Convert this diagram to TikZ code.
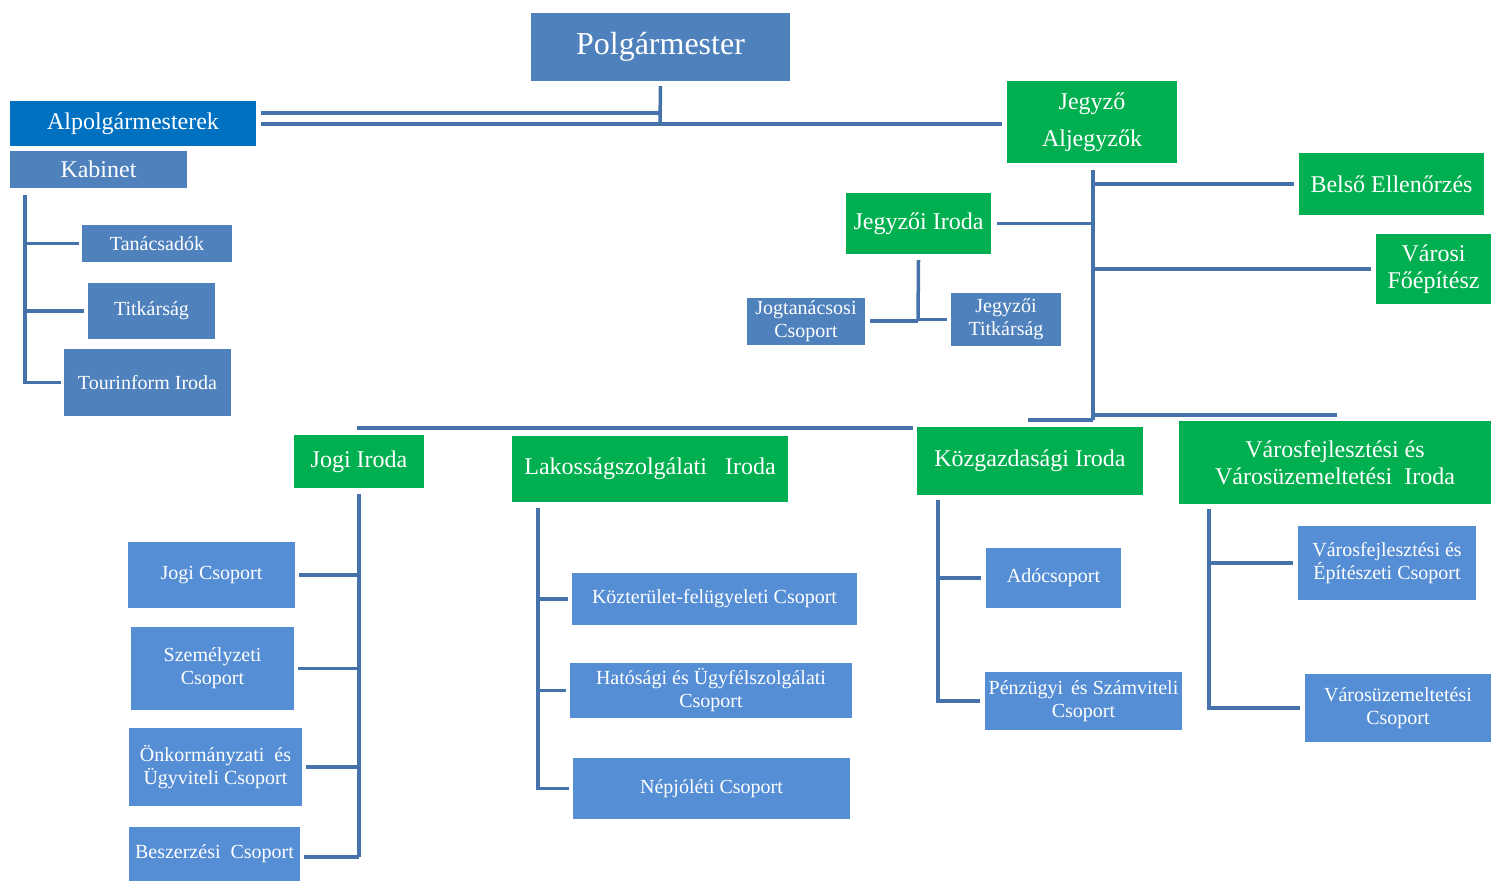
\documentclass[tikz,border=0pt]{standalone}
\usepackage{fontspec}
\setmainfont{Liberation Serif}
\definecolor{bluetop}{RGB}{79,129,189}
\definecolor{bluelow}{RGB}{85,142,213}
\definecolor{bluedark}{RGB}{0,112,192}
\definecolor{greenbox}{RGB}{0,176,80}
\definecolor{linec}{RGB}{70,114,172}
\tikzset{
  box/.style={rectangle, inner sep=1pt, text=white, align=center},
  topbox/.style={box, fill=bluetop},
  lowbox/.style={box, fill=bluelow, font=\fontsize{20}{23}\selectfont},
  smallbox/.style={box, fill=bluetop, font=\fontsize{20}{23}\selectfont},
  grbox/.style={box, fill=greenbox, font=\fontsize{24}{27}\selectfont},
  conn/.style={draw=linec, line width=3.5pt},
  wh/.style 2 args={minimum width=#1pt, minimum height=#2pt},
}
\begin{document}
\begin{tikzpicture}[x=1pt,y=-1pt]
\useasboundingbox[fill=white] (0,0) rectangle (1491,881);

% top level
\node[topbox, wh={259}{68}, font=\fontsize{32}{36}\selectfont] (polg) at (660.5,47) {Polgármester};
\node[box, fill=bluedark, wh={246}{45}, font=\fontsize{24}{27}\selectfont] (alp) at (133,123.5) {Alpolgármesterek};
\node[topbox, wh={177}{37}, font=\fontsize{24}{27}\selectfont] (kab) at (98.5,169.5) {Kabinet};
\node[smallbox, wh={150}{37}] (tan) at (157,243.5) {Tanácsadók};
\node[smallbox, wh={127}{56}] (tit) at (151.5,311) {Titkárság};
\node[smallbox, wh={167}{67}] (tour) at (147.5,382.5) {Tourinform Iroda};

\node[grbox, wh={170}{82}, font=\fontsize{24}{37}\selectfont] (jegy) at (1092,122) {Jegyző\\Aljegyzők};
\node[grbox, wh={185}{62}] (bels) at (1391.5,184) {Belső Ellenőrzés};
\node[grbox, wh={145}{61}] (jiro) at (918.5,223.5) {Jegyzői Iroda};
\node[grbox, wh={115}{70}] (foep) at (1433.5,269) {Városi\\Főépítész};
\node[smallbox, wh={118}{47}] (jogt) at (806,321.5) {Jogtanácsosi\\Csoport};
\node[smallbox, wh={110}{53}] (jtit) at (1006,319.5) {Jegyzői\\Titkárság};

% offices
\node[grbox, wh={130}{53}] (jogi) at (359,461.5) {Jogi Iroda};
\node[grbox, wh={276}{66}] (lak) at (650,469) {Lakosságszolgálati\hspace{0.75em}Iroda};
\node[grbox, wh={226}{68}] (kozg) at (1030,461) {Közgazdasági Iroda};
\node[grbox, wh={312}{83}] (vfi) at (1335,462.5) {Városfejlesztési és\\Városüzemeltetési\hspace{0.5em}Iroda};

% groups
\node[lowbox, wh={167}{66}] (jcs) at (211.5,575) {Jogi Csoport};
\node[lowbox, wh={163}{83}] (szem) at (212.5,668.5) {Személyzeti\\Csoport};
\node[lowbox, wh={173}{78}] (onk) at (215.5,767) {Önkormányzati\hspace{0.5em}és\\Ügyviteli Csoport};
\node[lowbox, wh={171}{54}] (besz) at (214.5,854) {\raisebox{-6pt}{Beszerzési\hspace{0.5em}Csoport}};
\node[lowbox, wh={285}{52}] (kozt) at (714.5,599) {Közterület-felügyeleti Csoport};
\node[lowbox, wh={282}{55}] (hat) at (711,690.5) {Hatósági és Ügyfélszolgálati\\Csoport};
\node[lowbox, wh={277}{61}] (nep) at (711.5,788.5) {Népjóléti Csoport};
\node[lowbox, wh={135}{60}] (ado) at (1053.5,578) {Adócsoport};
\node[lowbox, wh={197}{58}] (penz) at (1083.5,701) {Pénzügyi\hspace{0.4em}és Számviteli\\Csoport};
\node[lowbox, wh={178}{74}] (vfe) at (1387,563) {Városfejlesztési és\\Építészeti Csoport};
\node[lowbox, wh={186}{68}] (vuz) at (1398,708) {Városüzemeltetési\\Csoport};

% coordinates
\coordinate (pj) at (660,124);
\coordinate (pt) at (660,113);
\coordinate (ka) at (25,195);
\coordinate (jt) at (1093,170);
\coordinate (jb) at (1093,420);
\coordinate (ji) at (918,321);
\coordinate (bl) at (357,428);
\coordinate (br) at (913,428);
\coordinate (bs) at (1028,420);
\coordinate (be) at (1337,415);
\coordinate (la) at (538,508);
\coordinate (ko) at (938,500);
\coordinate (vf) at (1209,509);
\coordinate (bz) at (359,857);

% connectors: top
\draw[conn] ([yshift=-5pt]polg.south) -- (pj);
\draw[conn] ([xshift=5pt]alp.east |- pt) -- (pt);
\draw[conn] ([xshift=5pt]alp.east |- pj) -- ([xshift=-5pt]jegy.west |- pj);

% Kabinet
\draw[conn] (ka) |- ([xshift=-3pt]tour.west);
\draw[conn] (ka |- tan) -- ([xshift=-3pt]tan.west);
\draw[conn] (ka |- tit) -- ([xshift=-4pt]tit.west);

% Jegyzo
\draw[conn] (jt) -- (jb);
\draw[conn] (jt |- bels) -- ([xshift=-5pt]bels.west);
\draw[conn] ([xshift=6pt]jiro.east) -- (jt |- jiro);
\draw[conn] (jt |- foep) -- ([xshift=-5pt]foep.west);
\draw[conn] ([yshift=-6pt]jiro.south) -- (ji);
\draw[conn] ([xshift=5pt]jogt.east |- ji) -- (ji);
\draw[conn] (ji |- jtit) -- ([xshift=-4pt]jtit.west);

% bus
\draw[conn] (bl) -- (br);
\draw[conn] (bs) -- (jb);
\draw[conn] (1093,415) -- (be);

% Jogi Iroda
\draw[conn] ([yshift=-6pt]jogi.south) -- (bz);
\draw[conn] (bz |- jcs) -- ([xshift=4pt]jcs.east);
\draw[conn] (bz |- szem) -- ([xshift=4pt]szem.east);
\draw[conn] (bz |- onk) -- ([xshift=4pt]onk.east);
\draw[conn] (bz) -- ([xshift=4pt]besz.east |- bz);

% Lakossag
\draw[conn] (la) |- ([xshift=-4pt]nep.west);
\draw[conn] (la |- kozt) -- ([xshift=-4pt]kozt.west);
\draw[conn] (la |- hat) -- ([xshift=-4pt]hat.west);

% Kozgazdasagi
\draw[conn] (ko) |- ([xshift=-5pt]penz.west);
\draw[conn] (ko |- ado) -- ([xshift=-5pt]ado.west);

% Varosfejlesztesi
\draw[conn] (vf) |- ([xshift=-5pt]vuz.west);
\draw[conn] (vf |- vfe) -- ([xshift=-5pt]vfe.west);
\end{tikzpicture}
\end{document}
